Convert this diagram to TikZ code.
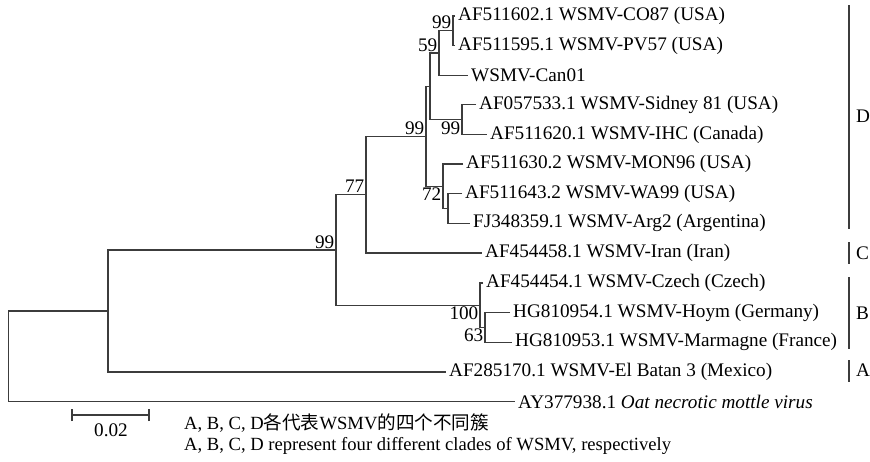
\documentclass[tikz,border=0pt]{standalone}
\usepackage{fontspec}
\setmainfont{Liberation Serif}
\newfontfamily\cjk{Noto Sans CJK SC}
\newcommand\treefont{\fontsize{19.2}{22}\selectfont}
\newcommand\legfont{\fontsize{18.6}{22}\selectfont}
\definecolor{treegray}{RGB}{60,60,60}
\begin{document}
\begin{tikzpicture}[x=1pt,y=-1pt,
  br/.style={line width=1.3pt, draw=treegray},
  clade/.style={line width=1.2pt, draw=treegray},
  lbl/.style={anchor=west, inner sep=3pt, font=\treefont},
  bsa/.style={anchor=south east, inner sep=1.5pt, font=\treefont},
  bsb/.style={anchor=north east, inner sep=1.5pt, font=\treefont},
  cl/.style={anchor=west, inner sep=2pt, font=\treefont}]
\fill[white] (0,0) rectangle (870,461);
\useasboundingbox (0,0) rectangle (870,461);
% leaf tips
\coordinate (t0) at (455,16);
\coordinate (t1) at (455,45.6);
\coordinate (t2) at (468,75.2);
\coordinate (t3) at (476,104.8);
\coordinate (t4) at (487,134.4);
\coordinate (t5) at (463,164);
\coordinate (t6) at (462,193.6);
\coordinate (t7) at (470,223.2);
\coordinate (t8) at (482,253);
\coordinate (t9) at (483,283);
\coordinate (t10) at (510,312.6);
\coordinate (t11) at (512,342.2);
\coordinate (t12) at (446,372);
\coordinate (t13) at (515,401.6);
% internal nodes
\coordinate (n99a) at (453,30.8);
\coordinate (n59) at (439,53);
\coordinate (nS) at (462,119.6);
\coordinate (nTop) at (430,86.3);
\coordinate (nSub) at (448,208.4);
\coordinate (n72) at (443,186.2);
\coordinate (nD) at (426,136.2);
\coordinate (n77) at (366,194.6);
\coordinate (nB2) at (485,327.4);
\coordinate (nB) at (480,305.2);
\coordinate (n99b) at (336,249.9);
\coordinate (nIn) at (108,311);
\coordinate (root) at (8.5,356.3);
% branches
\draw[br] (nIn) -| (root) |- (t13);
\draw[br] (n99b) -| (nIn) |- (t12);
\draw[br] (n77) -| (n99b) |- (nB);
\draw[br] (nD) -| (n77) |- (t8);
\draw[br] (nTop) -| (nD) |- (n72);
\draw[br] (n59) -| (nTop) |- (nS);
\draw[br] (n99a) -| (n59) |- (t2);
\draw[br] (t0) -| (n99a) |- (t1);
\draw[br] (t3) -| (nS) |- (t4);
\draw[br] (t5) -| (n72) |- (nSub);
\draw[br] (t6) -| (nSub) |- (t7);
\draw[br] (t9) -| (nB) |- (nB2);
\draw[br] (t10) -| (nB2) |- (t11);
% leaf labels
\node[lbl] (l0) at (t0) {AF511602.1 WSMV-CO87 (USA)};
\node[lbl] (l1) at (t1) {AF511595.1 WSMV-PV57 (USA)};
\node[lbl] (l2) at (t2) {WSMV-Can01};
\node[lbl] (l3) at (t3) {AF057533.1 WSMV-Sidney 81 (USA)};
\node[lbl] (l4) at (t4) {AF511620.1 WSMV-IHC (Canada)};
\node[lbl] (l5) at (t5) {AF511630.2 WSMV-MON96 (USA)};
\node[lbl] (l6) at (t6) {AF511643.2 WSMV-WA99 (USA)};
\node[lbl] (l7) at (t7) {FJ348359.1 WSMV-Arg2 (Argentina)};
\node[lbl] (l8) at (t8) {AF454458.1 WSMV-Iran (Iran)};
\node[lbl] (l9) at (t9) {AF454454.1 WSMV-Czech (Czech)};
\node[lbl] (l10) at (t10) {HG810954.1 WSMV-Hoym (Germany)};
\node[lbl] (l11) at (t11) {HG810953.1 WSMV-Marmagne (France)};
\node[lbl] (l12) at (t12) {AF285170.1 WSMV-El Batan 3 (Mexico)};
\node[lbl] (l13) at (t13) {AY377938.1 \textit{Oat necrotic mottle virus}};
% bootstrap values
\node[bsa] (b1) at (n99a) {99};
\node[bsa] (b2) at (n59) {59};
\node[bsb] (b3) at (nS) {99};
\node[bsa] (b4) at (nD) {99};
\node[bsb] (b5) at (n72) {72};
\node[bsa] (b6) at (n77) {77};
\node[bsa] (b7) at (n99b) {99};
\node[bsb] (b8) at (nB) {100};
\node[bsb] (b9) at (nB2) {63};
% clade bars
\coordinate (dT) at (849,5);   \coordinate (dB) at (849,229);
\coordinate (cT) at (849,242); \coordinate (cB) at (849,264);
\coordinate (bT) at (849,277); \coordinate (bB) at (849,349);
\coordinate (aT) at (849,360); \coordinate (aB) at (849,382);
\draw[clade] (dT) -- (dB);
\draw[clade] (cT) -- (cB);
\draw[clade] (bT) -- (bB);
\draw[clade] (aT) -- (aB);
\node[cl] (cD) at (854,116) {D};
\node[cl] (cC) at (854,253) {C};
\node[cl] (cBl) at (854,313) {B};
\node[cl] (cA) at (854,370) {A};
% scale bar
\coordinate (s1) at (72,415);
\coordinate (s2) at (149,415);
\draw[line width=1.2pt, draw=treegray] (s1) -- (s2);
\draw[line width=1.2pt, draw=treegray] ([yshift=-6]s1) -- ([yshift=6]s1);
\draw[line width=1.2pt, draw=treegray] ([yshift=-6]s2) -- ([yshift=6]s2);
\node[font=\treefont, inner sep=0pt] (sl) at (111,430) {0.02};
% legend
\node[anchor=west, inner sep=0pt, font=\legfont] (lg1) at (184,423) {A, B, C, D{\cjk 各代表}WSMV{\cjk 的四个不同簇}};
\node[anchor=west, inner sep=0pt, font=\legfont] (lg2) at (184,446) {A, B, C, D represent four different clades of WSMV, respectively};
\end{tikzpicture}
\end{document}
